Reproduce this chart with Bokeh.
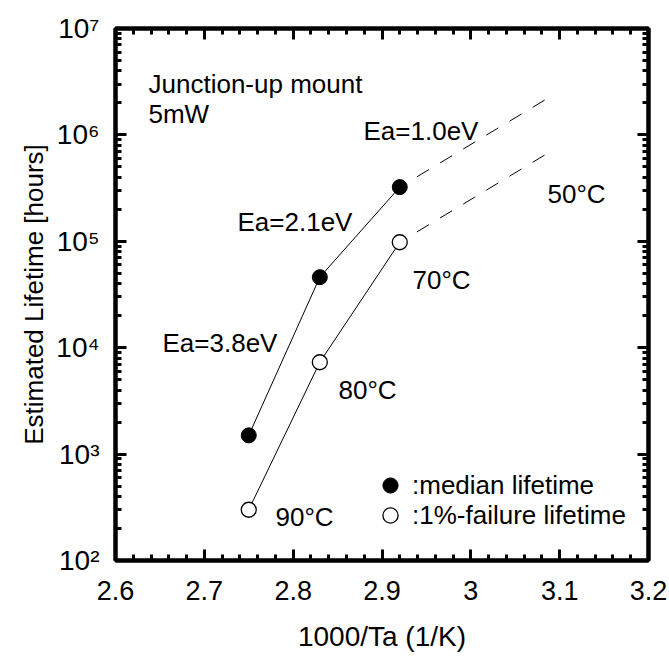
from bokeh.plotting import figure
from bokeh.models import (FixedTicker, Label, Legend, LegendItem, LinearAxis,
                          LogAxis, Range1d)
from bokeh.embed import file_html
from bokeh.resources import INLINE

FONT = "Liberation Sans"
FS = "26px"

# ---- data ----
inv_temp = [2.75, 2.83, 2.92]            # 1000/Ta for 90, 80, 70 degC
median_life = [1500, 46000, 323000]      # hours
failure_life = [300, 7300, 98000]        # hours (1%-failure)
extrap_x = [2.92, 3.09]                  # extrapolation to 50 degC
median_extrap = [323000, 2300000]
failure_extrap = [98000, 700000]

x_ticks = [2.6, 2.7, 2.8, 2.9, 3.0, 3.1, 3.2]
x_tick_labels = ["2.6", "2.7", "2.8", "2.9", "3", "3.1", "3.2"]
y_ticks = [1e2, 1e3, 1e4, 1e5, 1e6, 1e7]
y_tick_labels = ["10²", "10³", "10⁴", "10⁵", "10⁶", "10⁷"]

p = figure(width=669, height=656, x_range=Range1d(2.6, 3.2),
           y_range=Range1d(1e2, 1e7), y_axis_type="log",
           output_backend="svg", toolbar_location=None,
           min_border_left=115, min_border_right=21,
           min_border_top=28, min_border_bottom=96)
p.grid.visible = False
p.outline_line_color = "black"
p.outline_line_width = 4
p.background_fill_color = "white"
p.border_fill_color = "white"

x_minor = [round(2.6 + 0.02 * i, 2) for i in range(31)]
y_minor = [m * 10 ** e for e in range(2, 7) for m in range(2, 10)]
xt = FixedTicker(ticks=x_ticks, minor_ticks=x_minor)
yt = FixedTicker(ticks=y_ticks, minor_ticks=y_minor)


def style(ax):
    ax.axis_line_width = 4
    ax.axis_line_color = "black"
    ax.major_tick_in = 11
    ax.major_tick_out = 0
    ax.minor_tick_in = 6
    ax.minor_tick_out = 0
    ax.major_tick_line_width = 3
    ax.minor_tick_line_width = 3
    ax.major_tick_line_color = "black"
    ax.minor_tick_line_color = "black"
    ax.major_label_text_font = FONT
    ax.major_label_text_font_size = "27px"
    ax.major_label_text_color = "black"
    ax.axis_label_text_font = FONT
    ax.axis_label_text_font_size = FS
    ax.axis_label_text_font_style = "normal"
    ax.axis_label_text_color = "black"


xax = p.xaxis[0]
xax.ticker = xt
xax.major_label_overrides = dict(zip(x_ticks, x_tick_labels))
xax.axis_label = "1000/Ta (1/K)"
style(xax)
xax.axis_label_text_font_size = "28px"
xax.major_label_standoff = 20
xax.axis_label_standoff = 18

yax = p.yaxis[0]
yax.ticker = yt
yax.major_label_overrides = dict(zip(y_ticks, y_tick_labels))
yax.axis_label = "Estimated Lifetime [hours]"
style(yax)
yax.major_label_text_font_size = "28px"
yax.major_label_standoff = 16
yax.axis_label_standoff = 4

top = LinearAxis(ticker=xt)
style(top)
top.major_label_text_font_size = "1px"
top.major_label_text_color = None
top.major_label_standoff = 0
p.add_layout(top, "above")

right = LogAxis(ticker=yt)
style(right)
right.major_label_text_font_size = "1px"
right.major_label_text_color = None
right.major_label_standoff = 0
p.add_layout(right, "right")

# lines
p.line(inv_temp, median_life, line_color="black", line_width=1)
p.line(inv_temp, failure_life, line_color="black", line_width=1)
p.line(extrap_x, median_extrap, line_color="black", line_width=1,
       line_dash="14 13", line_dash_offset=7)
p.line(extrap_x, failure_extrap, line_color="black", line_width=1,
       line_dash="14 13", line_dash_offset=7)

# points
r_med = p.scatter(inv_temp, median_life, size=15, marker="circle",
                  fill_color="black", line_color="black", line_width=1)
r_fail = p.scatter(inv_temp, failure_life, size=15, marker="circle",
                   fill_color="white", line_color="black", line_width=1.3)

# text annotations (screen offsets from the frame's lower-left corner)
notes = [
    ("Junction-up mount", 33, 477),
    ("5mW", 33, 447),
    ("Ea=1.0eV", 248, 430),
    ("Ea=2.1eV", 122, 339),
    ("Ea=3.8eV", 47, 218),
    ("50°C", 432, 367),
    ("70°C", 297, 281),
    ("80°C", 223, 171),
    ("90°C", 160, 44),
]
for txt, sx, sy in notes:
    p.add_layout(Label(x=sx, y=sy, x_units="screen", y_units="screen",
                       text=txt, text_font=FONT, text_font_size=FS,
                       text_color="black", text_baseline="alphabetic",
                       text_align="left"))


def make_legend(label, rend, loc):
    return Legend(items=[LegendItem(label=label, renderers=[rend])],
                  location=loc, glyph_width=38, glyph_height=38,
                  label_standoff=3, padding=0, margin=0, spacing=0,
                  label_text_font=FONT, label_text_font_size=FS,
                  label_text_color="black", label_height=38,
                  border_line_alpha=0, background_fill_alpha=0)


p.add_layout(make_legend(":median lifetime", r_med, (256, 56)))
p.add_layout(make_legend(":1%-failure lifetime", r_fail, (256, 26)))

open("out.html", "w").write(file_html(p, INLINE))
